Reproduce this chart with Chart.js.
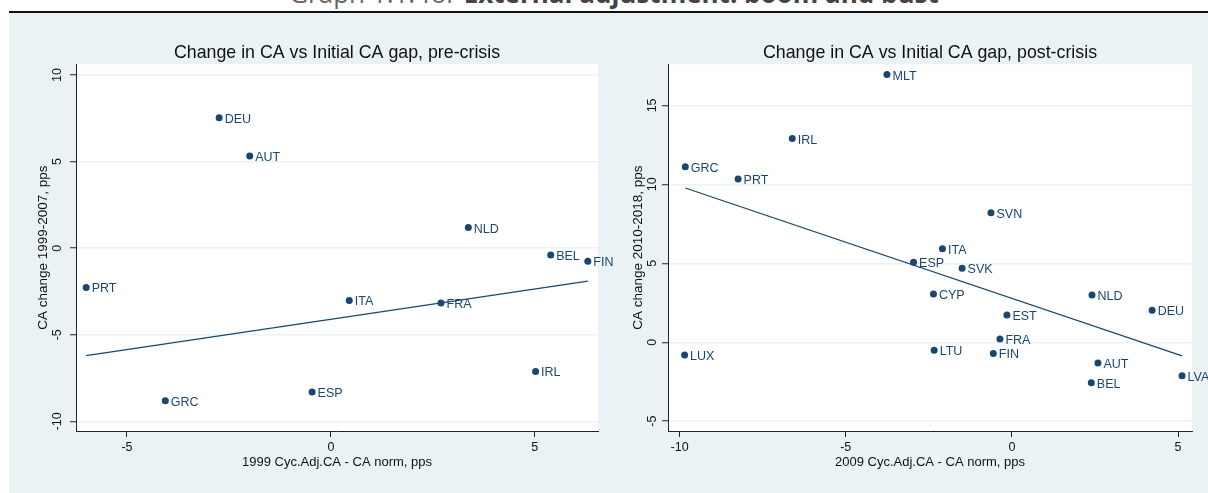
<!DOCTYPE html>
<html>
<head>
<meta charset="utf-8">
<script src="https://cdn.jsdelivr.net/npm/chart.js@4/dist/chart.umd.min.js"></script>
<style>
  body { margin: 0; width: 1208px; height: 493px; overflow: hidden; background: #fff; position: relative; }
  #head { position: absolute; left: 0; top: -20px; width: 1208px; padding-left: 20px; box-sizing: border-box;
          text-align: center; font: 26px/26px "Open Sans", sans-serif; color: #666; white-space: nowrap; }
  #head b { color: #444; }
  #rule { position: absolute; left: 9px; top: 11px; width: 1199px; height: 2px; background: #111; }
  #panel { position: absolute; left: 9px; top: 13px; width: 1199px; height: 480px; background: #eaf2f3; }
  canvas { position: absolute; top: 0; }
</style>
</head>
<body>
<div id="head">Graph 1.1: for <b>External adjustment: boom and bust</b></div>
<div id="rule"></div>
<div id="panel">
  <canvas id="preChart" width="620" height="480" style="left:0"></canvas>
  <canvas id="postChart" width="604" height="480" style="left:595px"></canvas>
</div>
<script>
// pre-crisis: 1999 gap vs change 1999-2007
var preNames = ['DEU', 'AUT', 'NLD', 'BEL', 'FIN', 'PRT', 'ITA', 'FRA', 'IRL', 'ESP', 'GRC'];
var preX = [-2.74, -1.99, 3.37, 5.39, 6.30, -6.00, 0.45, 2.70, 5.02, -0.46, -4.06];
var preY = [7.54, 5.33, 1.19, -0.40, -0.75, -2.27, -3.02, -3.17, -7.12, -8.31, -8.81];
var preFitX = [-6.00, 6.30];
var preFitY = [-6.21, -1.90];
var preXTicks = [-5, 0, 5];
var preYTicks = [-10, -5, 0, 5, 10];

// post-crisis: 2009 gap vs change 2010-2018
var postNames = ['MLT', 'IRL', 'GRC', 'PRT', 'SVN', 'ITA', 'ESP', 'SVK', 'CYP', 'NLD', 'DEU', 'EST', 'FRA', 'LTU', 'FIN', 'LUX', 'AUT', 'BEL', 'LVA'];
var postX = [-3.76, -6.61, -9.83, -8.24, -0.63, -2.09, -2.96, -1.50, -2.36, 2.41, 4.22, -0.15, -0.36, -2.34, -0.56, -9.85, 2.59, 2.39, 5.12];
var postY = [16.95, 12.90, 11.12, 10.34, 8.20, 5.93, 5.06, 4.68, 3.05, 3.00, 2.02, 1.72, 0.21, -0.50, -0.71, -0.80, -1.32, -2.56, -2.12];
var postFitX = [-9.83, 5.12];
var postFitY = [9.77, -0.86];
var postXTicks = [-10, -5, 0, 5];
var postYTicks = [-5, 0, 5, 10, 15];

var NAVY = '#1a476f';
var FONT = '"Liberation Sans", Arial, sans-serif';

// white plot region
var plotBg = {
    id: 'plotBg',
    beforeDraw: function (chart) {
        var a = chart.chartArea, ctx = chart.ctx;
        ctx.save();
        ctx.fillStyle = '#ffffff';
        ctx.fillRect(a.left, a.top, a.right - a.left, a.bottom - a.top);
        ctx.restore();
    }
};

// country labels to the right of each marker
var pointLabels = {
    id: 'pointLabels',
    afterDatasetsDraw: function (chart) {
        var ctx = chart.ctx;
        var names = chart.options.plugins.pointLabels.names;
        var meta = chart.getDatasetMeta(0);
        ctx.save();
        ctx.font = '12.5px ' + FONT;
        ctx.fillStyle = NAVY;
        ctx.textBaseline = 'middle';
        ctx.textAlign = 'left';
        meta.data.forEach(function (pt, i) {
            ctx.fillText(names[i], pt.x + 5.5, pt.y + 1.5);
        });
        ctx.restore();
    }
};

function toPoints(xs, ys) {
    return xs.map(function (x, i) { return { x: x, y: ys[i] }; });
}

function makeChart(id, cfg) {
    var ctx = document.getElementById(id).getContext('2d');
    return new Chart(ctx, {
        type: 'scatter',
        data: {
            datasets: [{
                data: toPoints(cfg.x, cfg.y),
                backgroundColor: NAVY,
                borderWidth: 0,
                pointRadius: 3.5,
                pointHoverRadius: 3.5
            }, {
                type: 'line',
                data: toPoints(cfg.fitX, cfg.fitY),
                borderColor: NAVY,
                borderWidth: 1.3,
                pointRadius: 0,
                fill: false,
                tension: 0
            }]
        },
        options: {
            responsive: false,
            animation: false,
            events: [],
            layout: { padding: { left: 0, right: cfg.padRight, top: 0, bottom: 0 } },
            plugins: {
                legend: { display: false },
                tooltip: { enabled: false },
                title: {
                    display: true,
                    fullSize: false,
                    text: cfg.title,
                    color: '#111',
                    font: { family: FONT, size: 17.8, weight: 'normal' },
                    padding: { top: 29, bottom: 1 }
                },
                pointLabels: { names: cfg.names }
            },
            scales: {
                x: {
                    type: 'linear',
                    min: cfg.xMin,
                    max: cfg.xMax,
                    afterBuildTicks: function (s) { s.ticks = cfg.xTicks.map(function (v) { return { value: v }; }); },
                    afterFit: function (s) { s.height = 62; },
                    grid: { drawOnChartArea: false, drawTicks: true, tickLength: 6, tickColor: '#222', tickWidth: 1 },
                    border: { display: true, color: '#222', width: 1 },
                    ticks: { color: '#111', font: { family: FONT, size: 12.5 }, padding: 3, maxRotation: 0 },
                    title: {
                        display: true,
                        text: cfg.xTitle,
                        color: '#111',
                        font: { family: FONT, size: 13 },
                        padding: { top: 0, bottom: 23 }
                    }
                },
                y: {
                    type: 'linear',
                    min: cfg.yMin,
                    max: cfg.yMax,
                    afterBuildTicks: function (s) { s.ticks = cfg.yTicks.map(function (v) { return { value: v }; }); },
                    afterFit: function (s) { s.width = cfg.yWidth; },
                    grid: { color: '#eaf2f3', lineWidth: 1.5, drawTicks: true, tickLength: 6, tickColor: '#222', tickWidth: 1 },
                    border: { display: true, color: '#222', width: 1 },
                    ticks: { color: '#111', font: { family: FONT, size: 12.5 }, padding: 3, minRotation: 90, maxRotation: 90, crossAlign: 'center' },
                    title: {
                        display: true,
                        text: cfg.yTitle,
                        color: '#111',
                        font: { family: FONT, size: 13.5 },
                        padding: { top: 26, bottom: 0 }
                    }
                }
            }
        },
        plugins: [plotBg, pointLabels]
    });
}

makeChart('preChart', {
    names: preNames, x: preX, y: preY, fitX: preFitX, fitY: preFitY,
    xTicks: preXTicks, yTicks: preYTicks,
    xMin: -6.25, xMax: 6.55, yMin: -10.56, yMax: 10.62,
    yWidth: 67, padRight: 31,
    title: 'Change in CA vs Initial CA gap, pre-crisis',
    xTitle: '1999 Cyc.Adj.CA - CA norm, pps',
    yTitle: 'CA change 1999-2007, pps'
});

makeChart('postChart', {
    names: postNames, x: postX, y: postY, fitX: postFitX, fitY: postFitY,
    xTicks: postXTicks, yTicks: postYTicks,
    xMin: -10.35, xMax: 5.42, yMin: -5.62, yMax: 17.6,
    yWidth: 64, padRight: 16,
    title: 'Change in CA vs Initial CA gap, post-crisis',
    xTitle: '2009 Cyc.Adj.CA - CA norm, pps',
    yTitle: 'CA change 2010-2018, pps'
});
</script>
</body>
</html>
